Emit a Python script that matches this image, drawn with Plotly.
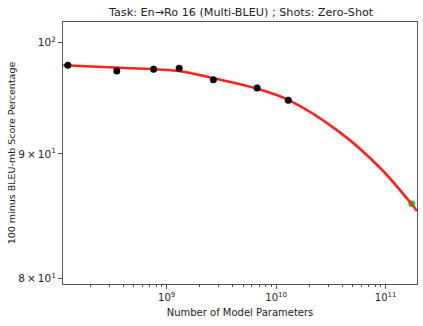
import plotly.graph_objects as go

# observed points (GPT-3 family sizes)
params = [1.25e8, 3.5e8, 7.6e8, 1.3e9, 2.67e9, 6.7e9, 1.29e10]
scores = [97.90, 97.37, 97.52, 97.62, 96.57, 95.80, 94.69]

# held-out point
params_big = [1.73e11]
scores_big = [85.86]

# fitted curve
fit_x = [1.137e8, 3.75e8, 1.32e9, 2.67e9, 6.64e9, 1.29e10, 3.82e10, 8.87e10, 1.73e11, 1.93e11]
fit_y = [97.90, 97.66, 97.34, 96.69, 95.75, 94.73, 91.86, 88.83, 85.81, 85.26]

fig = go.Figure()
fig.add_trace(go.Scatter(x=params_big, y=scores_big, mode="markers",
                         marker=dict(color="#22dd22", size=7), showlegend=False, cliponaxis=False))
fig.add_trace(go.Scatter(x=fit_x, y=fit_y, mode="lines", line=dict(color="#ff2020", width=2.6, shape="spline"),
                         showlegend=False))
fig.add_trace(go.Scatter(x=params, y=scores, mode="markers",
                         marker=dict(color="black", size=7), showlegend=False, cliponaxis=False))

minor_x = [m * 10 ** e for e in range(8, 12) for m in range(2, 10)]

fig.update_layout(
    width=423, height=326,
    margin=dict(l=63, r=6, t=22, b=42, autoexpand=False),
    paper_bgcolor="white", plot_bgcolor="white",
    font=dict(family="DejaVu Sans", size=10, color="#222"),
    title=dict(text="Task: En→Ro 16 (Multi-BLEU) ; Shots: Zero-Shot", x=0.57, xanchor="center",
               y=0.963, yanchor="middle", font=dict(size=11.2)),
)
fig.update_xaxes(type="log", range=[8.053, 11.286], showgrid=False, zeroline=False,
                 showline=True, linecolor="#555", linewidth=1, mirror=True,
                 ticks="outside", ticklen=4, tickcolor="#555",
                 tickvals=[1e9, 1e10, 1e11],
                 ticktext=["10<sup>9</sup>", "10<sup>10</sup>", "10<sup>11</sup>"],
                 minor=dict(tickvals=minor_x, ticks="outside", ticklen=2, tickcolor="#555"),
                 title=dict(text="Number of Model Parameters", standoff=6, font=dict(size=10)))
fig.update_yaxes(type="log", range=[1.90073, 2.00856], showgrid=False, zeroline=False,
                 showline=True, linecolor="#555", linewidth=1, mirror=True,
                 ticks="outside", ticklen=4, tickcolor="#555", tickfont=dict(size=10.5),
                 tickvals=[80, 90, 100],
                 ticktext=["8\u2009×\u200910<sup>1</sup>", "9\u2009×\u200910<sup>1</sup>", "10<sup>2</sup>"],
                 title=dict(text="100 minus BLEU-mb Score Percentage", standoff=0, font=dict(size=9.5)))

fig.write_html("out.html", config={"displayModeBar": False},
               post_script="document.body.style.margin='0px';")
